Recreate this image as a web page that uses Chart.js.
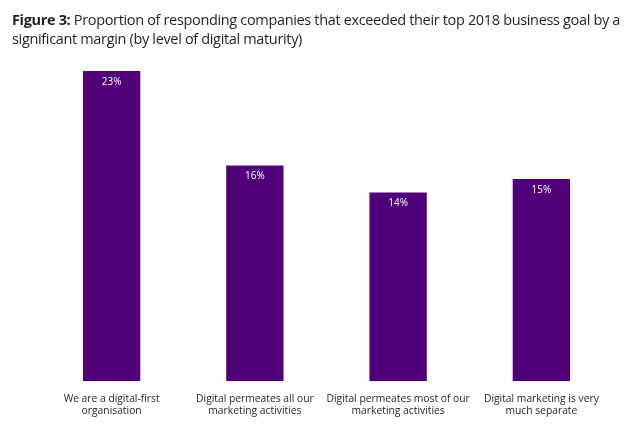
<!DOCTYPE html>
<html>
<head>
<meta charset="utf-8">
<script src="https://cdn.jsdelivr.net/npm/chart.js@4"></script>
<style>
  html, body { margin: 0; padding: 0; background: #ffffff; }
  #wrap { position: relative; width: 633px; height: 431px; }
  #title { position: absolute; left: 12px; top: 10px; width: 625px; white-space: nowrap; font-family: "Open Sans", sans-serif; font-size: 14.5px; line-height: 19px; color: #231f20; letter-spacing: -0.34px; }
  #title b { font-weight: 700; }
  canvas { position: absolute; left: 0; top: 0; }
</style>
</head>
<body>
<div id="wrap">
  <canvas id="c" width="633" height="431"></canvas>
  <div id="title"><b>Figure 3:</b> Proportion of responding companies that exceeded their top 2018 business goal by a<br>significant margin (by level of digital maturity)</div>
</div>
<script>
const categories = [
  ["We are a digital-first", "organisation"],
  ["Digital permeates all our", "marketing activities"],
  ["Digital permeates most of our", "marketing activities"],
  ["Digital marketing is very", "much separate"]
];
const values = [23, 16, 14, 15];
const valueLabels = ["23%", "16%", "14%", "15%"];

const barLabels = {
  id: 'barLabels',
  afterDatasetsDraw(chart) {
    const ctx = chart.ctx;
    const meta = chart.getDatasetMeta(0);
    ctx.save();
    ctx.fillStyle = '#ffffff';
    ctx.font = '10px "Open Sans", sans-serif';
    ctx.textAlign = 'center';
    ctx.textBaseline = 'middle';
    meta.data.forEach((bar, i) => {
      ctx.fillText(valueLabels[i], bar.x, bar.y + 11);
    });
    ctx.restore();
  }
};

new Chart(document.getElementById('c'), {
  type: 'bar',
  data: {
    labels: categories,
    datasets: [{
      data: values,
      backgroundColor: '#500078',
      borderWidth: 0,
      categoryPercentage: 1,
      barPercentage: 0.4
    }]
  },
  options: {
    responsive: false,
    animation: false,
    devicePixelRatio: 1,
    layout: { padding: { left: 40, right: 20, top: 44, bottom: 10 } },
    plugins: { legend: { display: false }, tooltip: { enabled: false }, title: { display: false } },
    scales: {
      y: { display: false, min: 0, max: 25 },
      x: {
        grid: { display: false },
        border: { display: false },
        ticks: {
          color: '#231f20',
          padding: 3,
          maxRotation: 0,
          autoSkip: false,
          font: { family: '"Open Sans", sans-serif', size: 10.3, lineHeight: 1.25 }
        }
      }
    }
  },
  plugins: [barLabels]
});
</script>
</body>
</html>
